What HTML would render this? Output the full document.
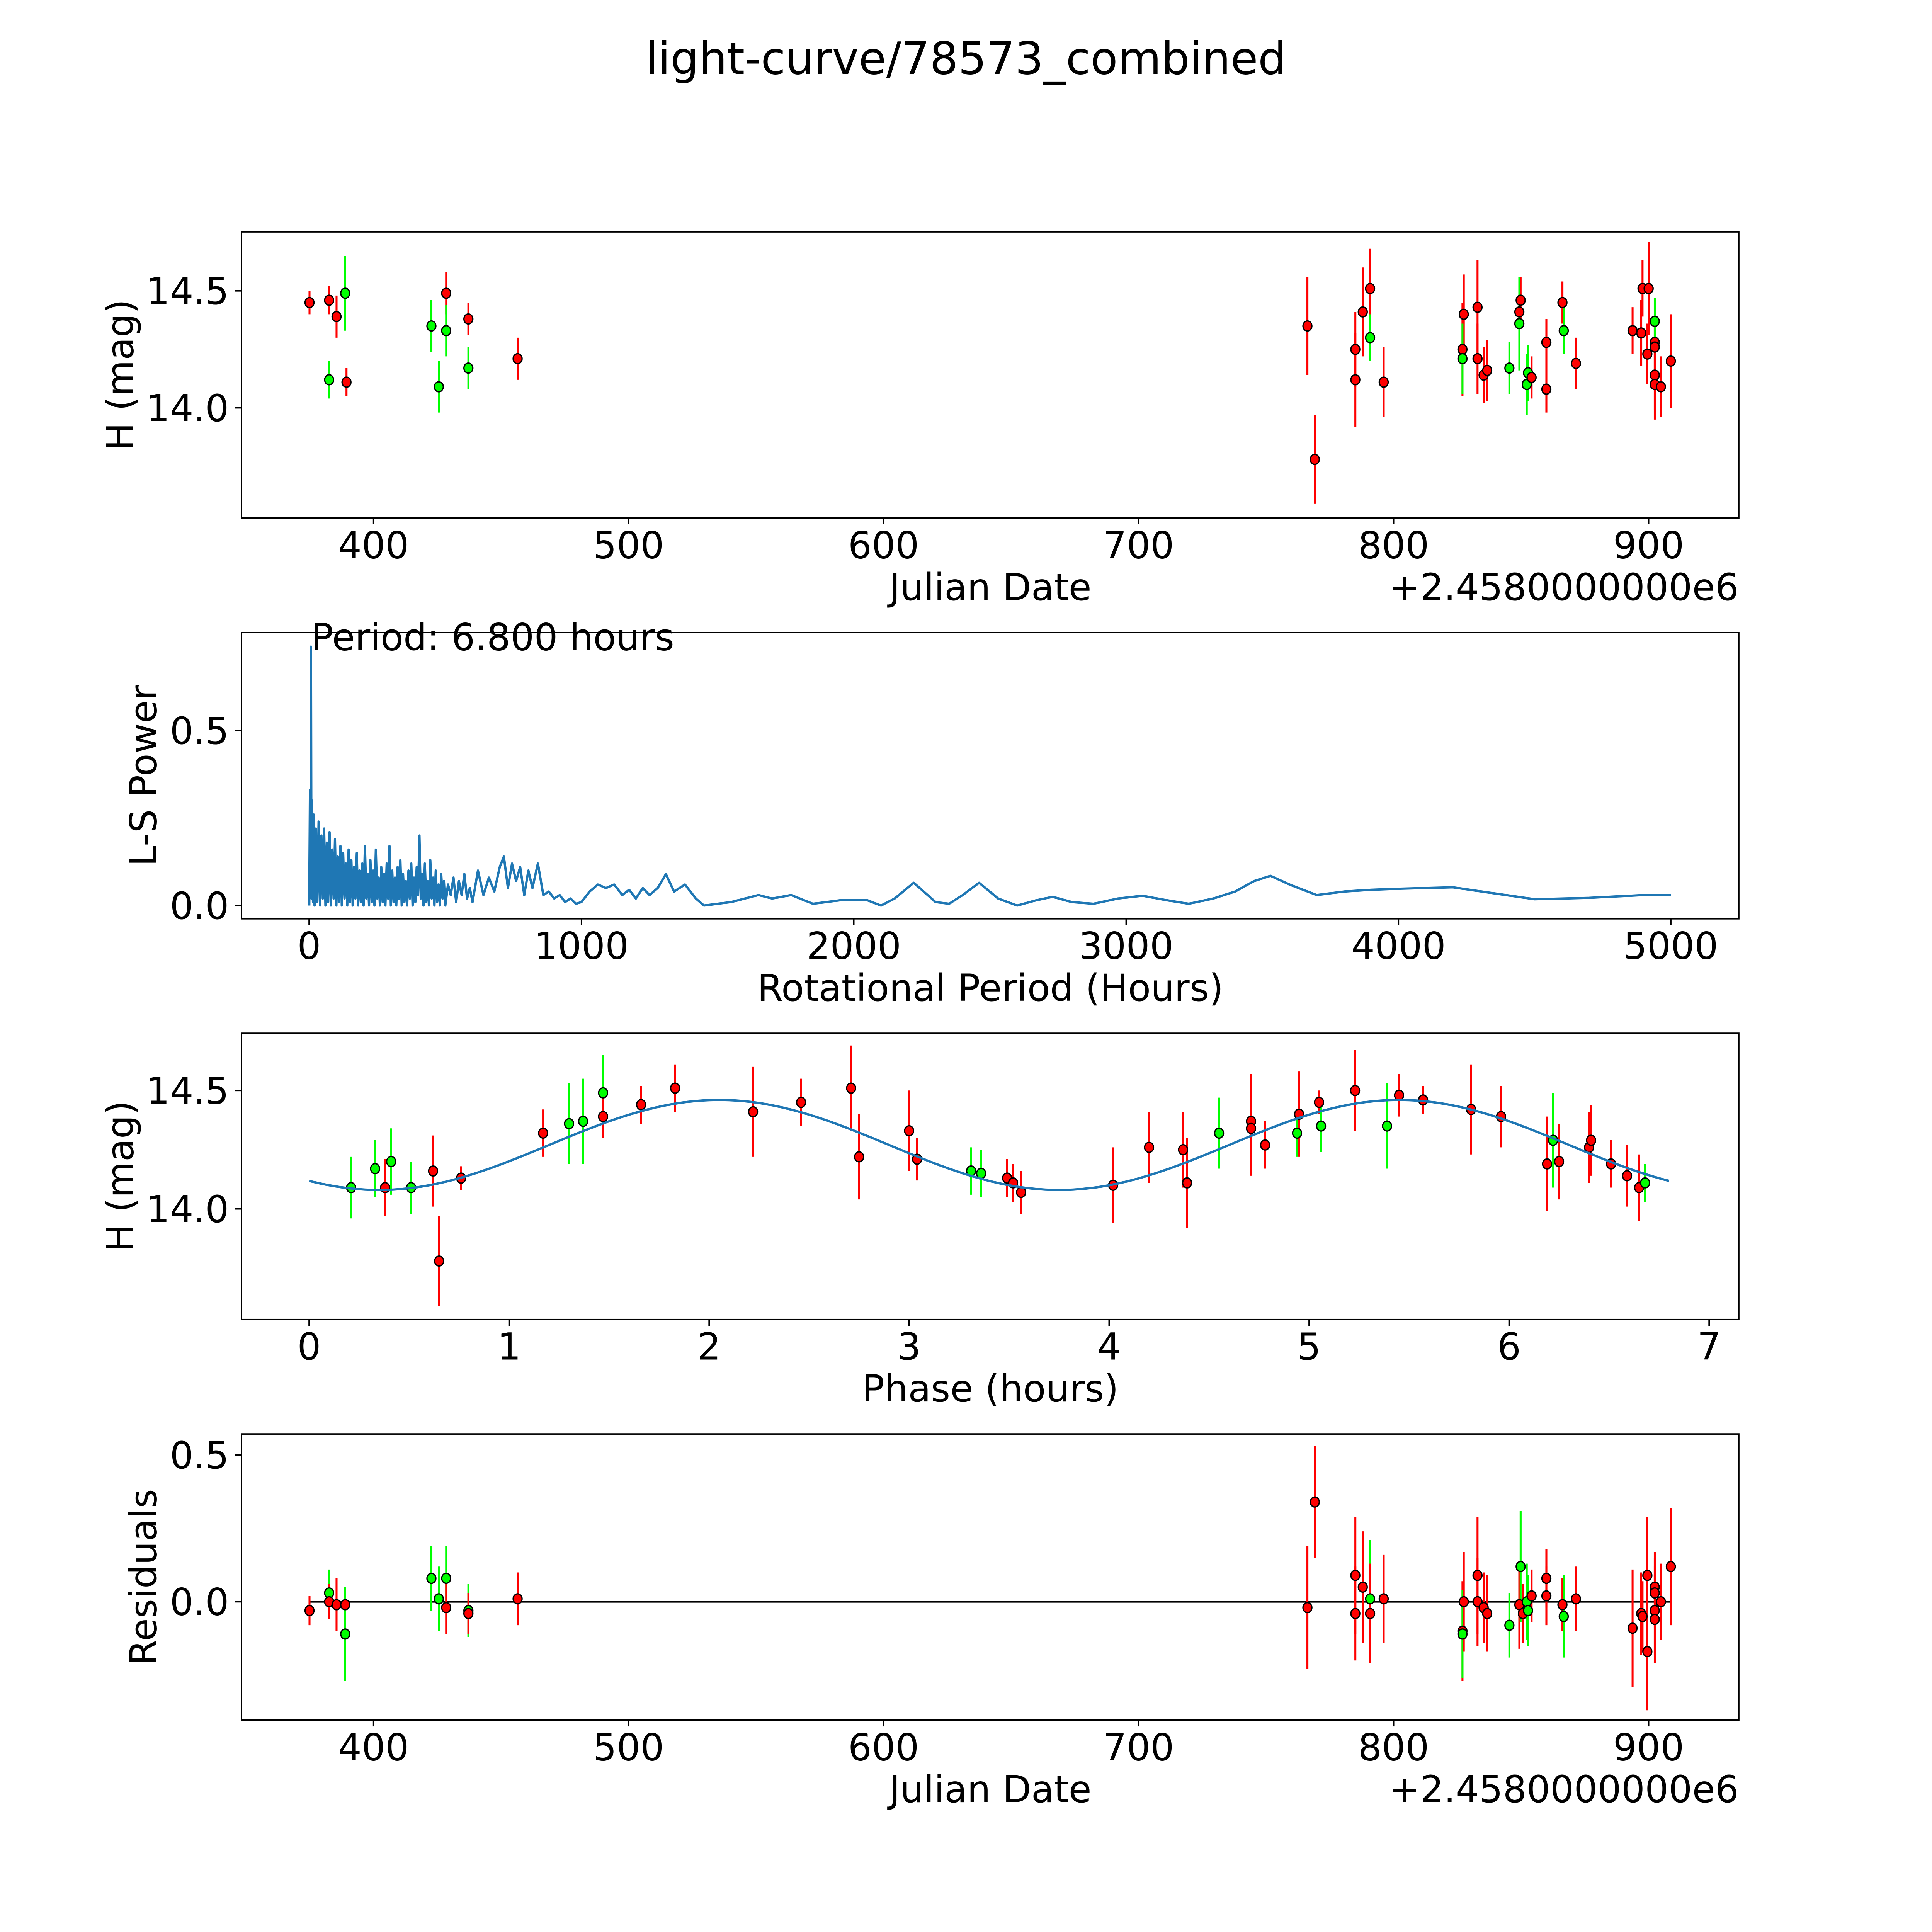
<!DOCTYPE html>
<html><head><meta charset="utf-8"><title>light-curve/78573_combined</title>
<style>
html,body{margin:0;padding:0;background:#fff;overflow:hidden;width:100%;height:100%;}
svg{display:block;width:100vw;height:100vh;font-family:"DejaVu Sans","Liberation Sans",sans-serif;}
</style></head>
<body>
<svg id="fig" xmlns="http://www.w3.org/2000/svg" viewBox="0 0 5400 5400" preserveAspectRatio="xMidYMid meet">
<rect width="5400" height="5400" fill="#fff"/>
<text x="2700" y="207" font-size="125" text-anchor="middle">light-curve/78573_combined</text>
</svg>
<script>
// ---------- data: light curve (panel 1) ----------
const lcDate = [374.9,382.6,385.5,388.9,382.6,389.4,422.7,425.6,428.5,428.5,437.2,437.2,456.5,766.2,769.1,785.0,785.0,787.9,790.8,790.8,796.1,827.0,827.5,827.0,832.9,832.9,835.3,836.7,845.4,849.3,849.8,849.3,852.2,852.7,854.1,859.9,859.9,866.2,866.7,871.5,893.7,897.1,897.6,900.0,899.5,902.4,902.4,902.4,902.4,902.4,904.8,908.7];
const lcMag = [14.45,14.46,14.39,14.49,14.12,14.11,14.35,14.09,14.49,14.33,14.38,14.17,14.21,14.35,13.78,14.25,14.12,14.41,14.51,14.30,14.11,14.25,14.40,14.21,14.43,14.21,14.14,14.16,14.17,14.41,14.46,14.36,14.10,14.15,14.13,14.28,14.08,14.45,14.33,14.19,14.33,14.32,14.51,14.51,14.23,14.28,14.26,14.14,14.10,14.37,14.09,14.20];
const lcErr = [0.05,0.06,0.09,0.16,0.08,0.06,0.11,0.11,0.09,0.11,0.07,0.09,0.09,0.21,0.19,0.16,0.2,0.19,0.17,0.1,0.15,0.2,0.17,0.15,0.2,0.15,0.12,0.13,0.11,0.15,0.1,0.2,0.13,0.12,0.09,0.1,0.1,0.09,0.1,0.11,0.1,0.14,0.12,0.2,0.13,0.12,0.12,0.15,0.15,0.1,0.13,0.2];
const lcBand = ['r','r','r','g','g','r','g','g','r','g','r','g','r','r','r','r','r','r','r','g','r','r','r','g','r','r','r','r','g','r','r','g','g','g','r','r','r','r','g','r','r','r','r','r','r','r','r','r','r','g','r','r'];

// ---------- data: periodogram (panel 2) ----------
const lsPeriod = [
0.5,3,5,6.8,8.5,11,14,17,20,25,
30,35,40,45,50,55,60,65,70,75,
80,85,90,95,100,105,110,115,120,125,
130,135,140,145,150,155,160,165,170,175,
180,185,190,195,200,205,210,215,220,225,
230,235,240,245,250,255,260,265,270,275,
280,285,290,295,300,305,310,315,320,325,
330,335,340,345,350,355,360,365,370,375,
380,385,390,395,400,405,410,415,420,425,
430,435,440,445,450,455,460,465,470,475,
480,485,490,495,500,510,520,530,540,550,
560,570,580,590,600,620,640,660,680,700,
715,730,745,760,775,790,805,820,840,860,
880,900,920,940,960,980,1000,1030,1060,1090,
1120,1150,1175,1200,1225,1250,1280,1310,1340,1380,
1420,1450,1500,1550,1600,1650,1700,1770,1850,1950,
2050,2100,2150,2220,2300,2350,2400,2460,2530,2600,
2670,2730,2800,2880,2970,3060,3150,3230,3320,3400,
3470,3530,3600,3700,3800,3900,4000,4200,4350,4500,
4700,4900,5000];
const lsPower = [
0,0.33,0.05,0.74,0.02,0.30,0.01,0.26,0.0,0.22,
0.01,0.24,0.0,0.20,0.02,0.22,0.0,0.18,0.01,0.21,
0.0,0.16,0.02,0.19,0.0,0.14,0.01,0.17,0.0,0.15,
0.02,0.12,0.0,0.16,0.01,0.13,0.0,0.11,0.02,0.15,
0.0,0.10,0.01,0.12,0.0,0.17,0.02,0.09,0.0,0.13,
0.01,0.10,0.0,0.16,0.02,0.08,0.0,0.11,0.01,0.09,
0.0,0.12,0.02,0.17,0.0,0.10,0.01,0.08,0.0,0.11,
0.02,0.13,0.0,0.09,0.01,0.07,0.0,0.10,0.02,0.12,
0.0,0.08,0.01,0.11,0.03,0.20,0.02,0.09,0.0,0.12,
0.01,0.07,0.0,0.13,0.02,0.08,0.0,0.10,0.01,0.06,
0.0,0.09,0.02,0.07,0.0,0.06,0.03,0.08,0.01,0.07,
0.03,0.09,0.02,0.05,0.01,0.10,0.03,0.08,0.04,0.11,
0.14,0.05,0.12,0.07,0.11,0.03,0.10,0.05,0.12,0.03,
0.04,0.02,0.03,0.01,0.02,0.005,0.01,0.04,0.06,0.05,
0.06,0.03,0.045,0.02,0.05,0.03,0.05,0.09,0.04,0.06,
0.02,0.0,0.005,0.01,0.02,0.03,0.02,0.03,0.005,0.015,
0.015,0.0,0.02,0.065,0.01,0.005,0.03,0.065,0.02,0.0,
0.015,0.025,0.01,0.005,0.02,0.028,0.015,0.005,0.02,0.04,
0.07,0.085,0.06,0.03,0.04,0.045,0.048,0.052,0.035,0.018,
0.022,0.03,0.03];

// ---------- data: phased light curve (panel 3) ----------
const phPhase = [0.21,0.33,0.38,0.41,0.51,0.62,0.65,0.76,1.17,1.30,1.37,1.47,1.47,1.66,1.83,2.22,2.46,2.71,2.75,3.00,3.04,3.31,3.36,3.49,3.52,3.56,4.02,4.20,4.37,4.39,4.55,4.71,4.71,4.78,4.94,4.95,5.05,5.06,5.23,5.39,5.45,5.57,5.81,5.96,6.19,6.22,6.25,6.40,6.41,6.51,6.59,6.65,6.68];
const phMag = [14.09,14.17,14.09,14.20,14.09,14.16,13.78,14.13,14.32,14.36,14.37,14.49,14.39,14.44,14.51,14.41,14.45,14.51,14.22,14.33,14.21,14.16,14.15,14.13,14.11,14.07,14.10,14.26,14.25,14.11,14.32,14.37,14.34,14.27,14.32,14.40,14.45,14.35,14.50,14.35,14.48,14.46,14.42,14.39,14.19,14.29,14.20,14.26,14.29,14.19,14.14,14.09,14.11];
const phErr = [0.13,0.12,0.12,0.14,0.11,0.15,0.19,0.05,0.1,0.17,0.18,0.16,0.09,0.08,0.1,0.19,0.1,0.18,0.18,0.17,0.09,0.1,0.1,0.08,0.08,0.09,0.16,0.15,0.16,0.19,0.15,0.2,0.2,0.1,0.1,0.18,0.05,0.11,0.17,0.18,0.09,0.06,0.19,0.13,0.2,0.2,0.16,0.15,0.15,0.1,0.13,0.14,0.08];
const phBand = ['g','g','r','g','g','r','r','r','r','g','g','g','r','r','r','r','r','r','r','r','r','g','g','r','r','r','r','r','r','r','g','r','r','r','g','r','r','g','r','g','r','r','r','r','r','g','r','r','r','r','r','r','g'];
// fit model parameters: [mean, amplitude, minimumPhase, halfPeriod, periodHours]
const fitParams = [14.27, 0.19, 0.35, 3.4, 6.8];

// ---------- data: residuals (panel 4) ----------
const rsDate = [374.9,382.6,382.6,385.5,388.9,388.9,422.7,425.6,428.5,428.5,437.2,437.2,456.5,766.2,769.1,785.0,785.0,787.9,790.8,790.8,796.1,827.0,827.0,827.5,832.9,832.9,835.3,836.7,845.4,849.3,849.8,850.7,852.2,852.7,854.1,859.9,859.9,866.2,866.7,871.5,893.7,897.1,897.6,899.5,899.5,902.4,902.4,902.4,902.4,904.8,908.7];
const rsVal = [-0.03,0.03,0.00,-0.01,-0.01,-0.11,0.08,0.01,0.08,-0.02,-0.03,-0.04,0.01,-0.02,0.34,0.09,-0.04,0.05,0.01,-0.04,0.01,-0.10,-0.11,0.00,0.09,0.00,-0.02,-0.04,-0.08,-0.01,0.12,-0.04,0.00,-0.03,0.02,0.08,0.02,-0.01,-0.05,0.01,-0.09,-0.04,-0.05,0.09,-0.17,0.05,0.03,-0.03,-0.06,0.00,0.12];
const rsErr = [0.05,0.08,0.06,0.09,0.06,0.16,0.11,0.11,0.11,0.09,0.09,0.07,0.09,0.21,0.19,0.2,0.16,0.19,0.2,0.17,0.15,0.17,0.15,0.17,0.2,0.15,0.12,0.13,0.11,0.15,0.19,0.1,0.13,0.12,0.09,0.1,0.1,0.09,0.14,0.11,0.2,0.14,0.12,0.2,0.2,0.12,0.12,0.15,0.15,0.13,0.2];
const rsBand = ['r','g','r','r','r','g','g','g','g','r','g','r','r','r','r','r','r','r','g','r','r','r','g','r','r','r','r','r','g','r','g','r','g','g','r','r','r','r','g','r','r','r','r','r','r','r','r','r','r','r','r'];

// ---------- tick labels ----------
const jdTicks = [400,500,600,700,800,900];
const magTicks = [14.0,14.5];
const magTickLabels = ['14.0','14.5'];
const lsXTicks = [0,1000,2000,3000,4000,5000];
const lsYTicks = [0.0,0.5];
const lsYTickLabels = ['0.0','0.5'];
const phTicks = [0,1,2,3,4,5,6,7];
const rsTicks = [0.0,0.5];
const rsTickLabels = ['0.0','0.5'];

const NS='http://www.w3.org/2000/svg';
const svg=document.getElementById('fig');
function mk(tag,parent){const e=document.createElementNS(NS,tag);parent.appendChild(e);return e;}
function set(e,o){for(const k in o)e.setAttribute(k,o[k]);return e;}
function scale(d0,d1,r0,r1){return v=>r0+(v-d0)*(r1-r0)/(d1-d0);}
const COL={r:'#ff0000',g:'#00ff00'};
const L=675,R=4860,FS=104;

function frame(g,top,bot){
  const f=mk('rect',g);
  
  
  set(f,{x:L,y:top,width:R-L,height:bot-top,fill:'none',stroke:'#000','stroke-width':4});
}
function xTicks(g,ticks,labels,sx,bot){
  ticks.forEach((t,i)=>{
    const x=sx(t);
    const tk=mk('line',g);
    
    
    set(tk,{x1:x,x2:x,y1:bot,y2:bot+17.5,stroke:'#000','stroke-width':4});
    const tx=mk('text',g);
    
    
    set(tx,{x:x,y:bot+112,'font-size':FS,'text-anchor':'middle'});
    tx.textContent=labels[i];
  });
}
function yTicks(g,ticks,labels,sy){
  ticks.forEach((t,i)=>{
    const y=sy(t);
    const tk=mk('line',g);
    
    
    set(tk,{x1:L-17.5,x2:L,y1:y,y2:y,stroke:'#000','stroke-width':4});
    const tx=mk('text',g);
    
    
    set(tx,{x:L-35,y:y+37,'font-size':FS,'text-anchor':'end'});
    tx.textContent=labels[i];
  });
}
function label(g,name,txt,x,y,rot){
  const t=mk('text',g);
  
  
  set(t,{x:x,y:y,'font-size':FS,'text-anchor':'middle'});
  if(rot)t.setAttribute('transform','rotate(-90 '+x+' '+y+')');
  t.textContent=txt;
  return t;
}
function points(g,xs,ys,es,bands,sx,sy,name){
  xs.forEach((xv,i)=>{
    const x=sx(xv),c=COL[bands[i]];
    const eb=mk('line',g);
    
    
    set(eb,{x1:x,x2:x,y1:sy(ys[i]-es[i]),y2:sy(ys[i]+es[i]),stroke:c,'stroke-width':5.5});
  });
  xs.forEach((xv,i)=>{
    const p=mk('ellipse',g);
    
    
    set(p,{cx:sx(xv),cy:sy(ys[i]),rx:12.5,ry:14,fill:COL[bands[i]],stroke:'#000','stroke-width':3.5});
  });
}

// ===== Panel 1 =====
(function(){
  const top=648,bot=1448;
  const g=mk('g',svg);
  
  
  const sx=scale(400,900,1044,4608), sy=scale(14.0,14.5,1140,813);
  points(g,lcDate,lcMag,lcErr,lcBand,sx,sy,'light-curve');
  frame(g,top,bot);
  xTicks(g,jdTicks,jdTicks.map(String),sx,bot);
  yTicks(g,magTicks,magTickLabels,sy);
  label(g,'x-axis-title','Julian Date',2768,1677);
  const off=mk('text',g);
  
  
  set(off,{x:R,y:1677,'font-size':FS,'text-anchor':'end'});
  off.textContent='+2.4580000000e6';
  label(g,'y-axis-title','H (mag)',372,(top+bot)/2,true);
})();

// ===== Panel 2 =====
(function(){
  const top=1768,bot=2568;
  const g=mk('g',svg);
  
  
  const sx=scale(0,5000,864,4670), sy=scale(0,0.5,2531,2042);
  const line=mk('polyline',g);
  
  
  set(line,{points:lsPeriod.map((p,i)=>sx(p).toFixed(1)+','+sy(lsPower[i]).toFixed(1)).join(' '),fill:'none',stroke:'#1f77b4','stroke-width':6.5,'stroke-linejoin':'round'});
  frame(g,top,bot);
  xTicks(g,lsXTicks,lsXTicks.map(String),sx,bot);
  yTicks(g,lsYTicks,lsYTickLabels,sy);
  label(g,'x-axis-title','Rotational Period (Hours)',2768,2797);
  label(g,'y-axis-title','L-S Power',437,(top+bot)/2,true);
  const pk=mk('text',g);
  
  
  set(pk,{x:sx(6.8),y:sy(0.74)+10,'font-size':FS});
  pk.textContent='Period: 6.800 hours';
})();

// ===== Panel 3 =====
(function(){
  const top=2888,bot=3688;
  const g=mk('g',svg);
  
  
  const sx=scale(0,7,864,4777), sy=scale(14.0,14.5,3379,3048);
  points(g,phPhase,phMag,phErr,phBand,sx,sy,'phased');
  const pts=[];
  for(let k=0;k<=340;k++){
    const p=fitParams[4]*k/340;
    const m=fitParams[0]-fitParams[1]*Math.cos(2*Math.PI*(p-fitParams[2])/fitParams[3]);
    pts.push(sx(p).toFixed(1)+','+sy(m).toFixed(1));
  }
  const fit=mk('polyline',g);
  
  
  set(fit,{points:pts.join(' '),fill:'none',stroke:'#1f77b4','stroke-width':6.5});
  frame(g,top,bot);
  xTicks(g,phTicks,phTicks.map(String),sx,bot);
  yTicks(g,magTicks,magTickLabels,sy);
  label(g,'x-axis-title','Phase (hours)',2768,3917);
  label(g,'y-axis-title','H (mag)',372,(top+bot)/2,true);
})();

// ===== Panel 4 =====
(function(){
  const top=4008,bot=4808;
  const g=mk('g',svg);
  
  
  const sx=scale(400,900,1044,4608), sy=scale(0,0.5,4477,4067);
  const zl=mk('line',g);
  
  
  set(zl,{x1:sx(374.9),x2:sx(908.7),y1:sy(0),y2:sy(0),stroke:'#000','stroke-width':5});
  points(g,rsDate,rsVal,rsErr,rsBand,sx,sy,'residual');
  frame(g,top,bot);
  xTicks(g,jdTicks,jdTicks.map(String),sx,bot);
  yTicks(g,rsTicks,rsTickLabels,sy);
  label(g,'x-axis-title','Julian Date',2768,5037);
  const off=mk('text',g);
  
  
  set(off,{x:R,y:5037,'font-size':FS,'text-anchor':'end'});
  off.textContent='+2.4580000000e6';
  label(g,'y-axis-title','Residuals',437,(top+bot)/2,true);
})();
</script>
</body></html>
